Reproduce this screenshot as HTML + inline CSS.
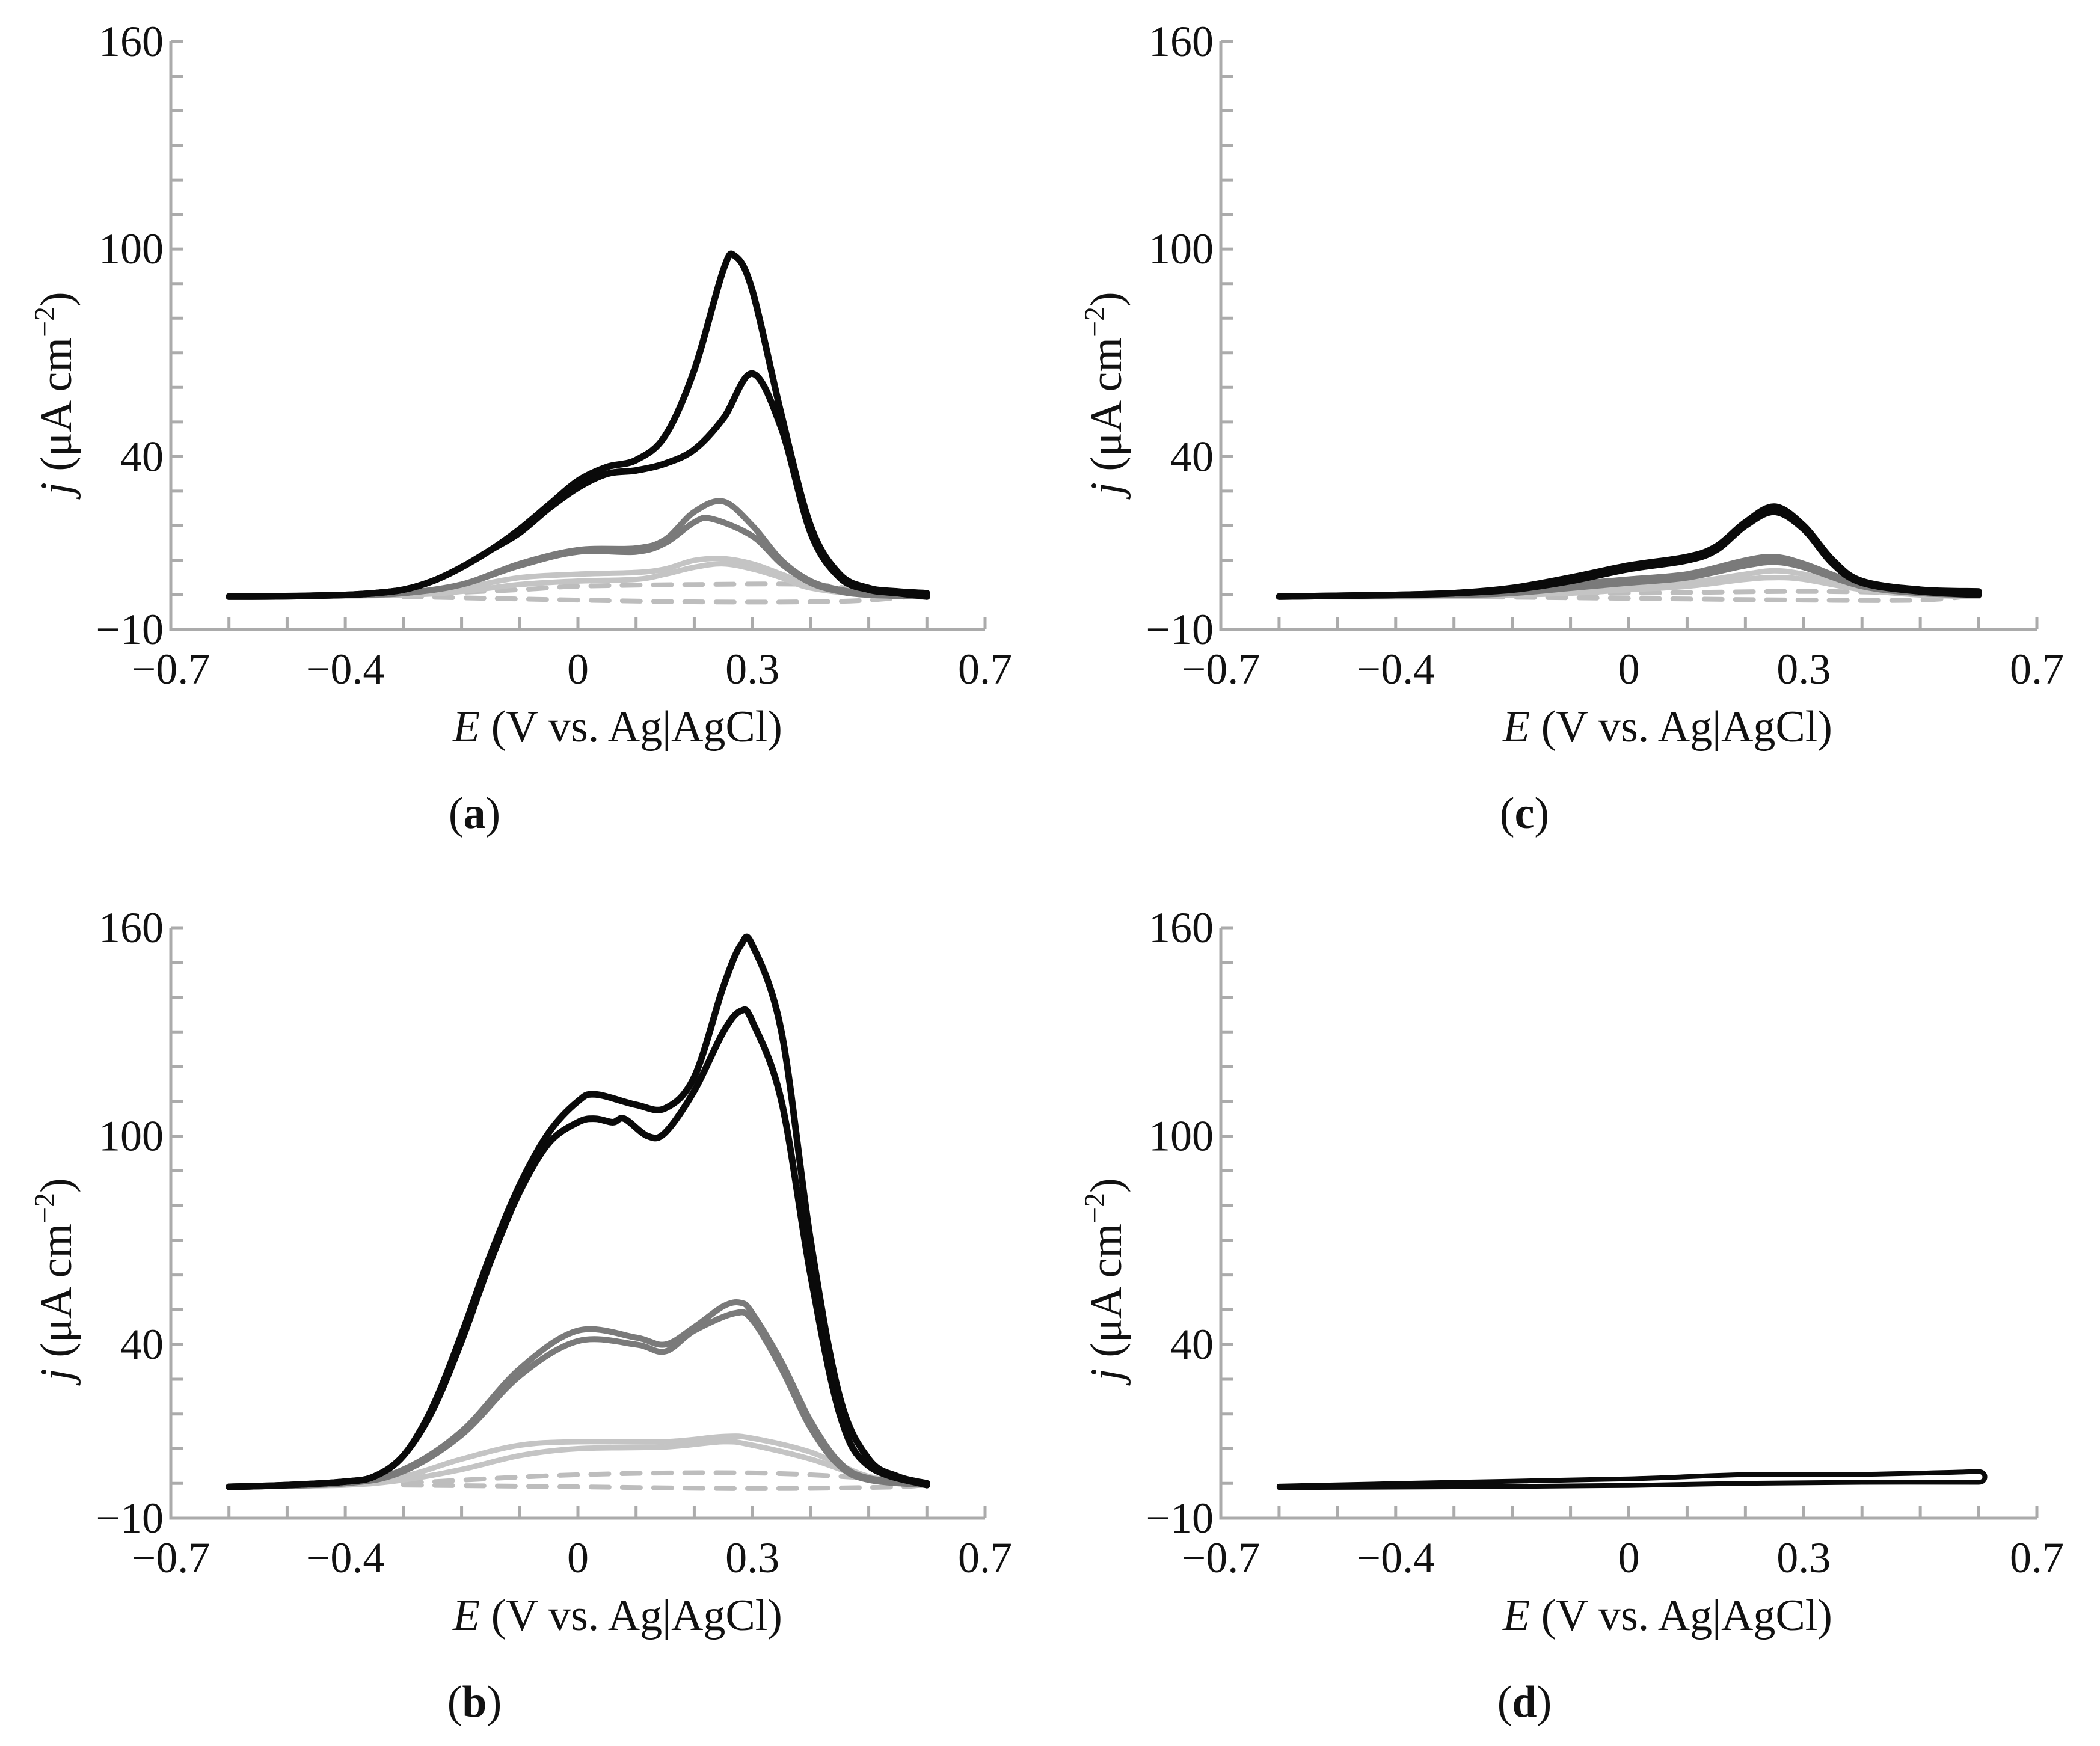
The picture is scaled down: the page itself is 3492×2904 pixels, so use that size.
<!DOCTYPE html>
<html><head><meta charset="utf-8"><style>
html,body{margin:0;padding:0;background:#fff}
svg{display:block}
text{font-family:"Liberation Serif",serif;fill:#111}
</style></head><body>
<svg id="fig" width="3492" height="2904" viewBox="0 0 3492 2904"></svg>
<script>
// ---- axis data ----
const xTickLabels=["-0.7","-0.4","0","0.3","0.7"];
const xTickValues=[-0.7,-0.4,0,0.3,0.7];
const yTickLabels=["-10","40","100","160"];
const yTickValues=[-10,40,100,160];
// ---- panel (a) ----
const aBlackUpE=[-0.6,-0.5,-0.4,-0.35,-0.3,-0.25,-0.2,-0.15,-0.1,-0.05,0,0.05,0.1,0.15,0.2,0.25,0.27,0.3,0.35,0.4,0.45,0.5,0.55,0.6];
const aBlackUpJ=[-0.5,-0.4,0,0.5,1.5,4,8,13,19,26,33,37,39,46,65,94,98,88,52,20,6,2,1,0.5];
const aBlackLoE=[-0.6,-0.5,-0.4,-0.35,-0.3,-0.25,-0.2,-0.15,-0.1,-0.05,0,0.05,0.1,0.15,0.2,0.25,0.3,0.35,0.4,0.45,0.5,0.55,0.6];
const aBlackLoJ=[-0.5,-0.4,0,0.5,1.5,4,8,13,18,25,31,35,36,38,42,51,64,48,18,5,1.5,0.5,-0.5];
const aDarkUpE=[-0.6,-0.4,-0.3,-0.2,-0.1,0,0.1,0.15,0.2,0.25,0.3,0.35,0.4,0.45,0.5,0.6];
const aDarkUpJ=[-0.5,0,0.5,3,9,13,13.5,16,24,27,20,10,4,1.5,0.5,0];
const aDarkLoE=[-0.6,-0.4,-0.3,-0.2,-0.1,0,0.1,0.15,0.2,0.23,0.3,0.35,0.4,0.45,0.5,0.6];
const aDarkLoJ=[-0.5,0,0.5,3,8.5,12.5,12.5,15,21,22,17,9,3.5,1,0,-0.5];
const aLightUpE=[-0.6,-0.3,-0.2,-0.1,0,0.1,0.15,0.2,0.25,0.3,0.35,0.4,0.5,0.6];
const aLightUpJ=[-0.5,0,2,5,6,6.5,7.5,10,10.5,9,6,3,0.5,0];
const aLightLoE=[-0.6,-0.3,-0.2,-0.1,0,0.1,0.15,0.2,0.25,0.3,0.35,0.4,0.5,0.6];
const aLightLoJ=[-0.5,0,1,3,4,4.5,6,8,9,7.5,5,2,0,-0.5];
const aDashUpE=[-0.3,-0.1,0,0.2,0.4,0.5,0.6];
const aDashUpJ=[0,1.5,2.5,3,3,1,0];
const aDashLoE=[-0.3,0,0.2,0.4,0.5,0.6];
const aDashLoJ=[-0.5,-1.5,-2,-2,-1.5,0];
// ---- panel (b) ----
const bBlackUpE=[-0.6,-0.5,-0.4,-0.35,-0.3,-0.25,-0.2,-0.15,-0.1,-0.05,0,0.03,0.1,0.15,0.2,0.25,0.28,0.3,0.35,0.4,0.45,0.5,0.55,0.6];
const bBlackUpJ=[-1,-0.5,0.5,2,8,22,43,66,86,101,110,112,109,108,117,143,155,155,130,70,25,7,2,0];
const bBlackLoE=[-0.6,-0.5,-0.4,-0.35,-0.3,-0.25,-0.2,-0.15,-0.1,-0.05,0,0.03,0.06,0.08,0.12,0.15,0.2,0.25,0.28,0.3,0.35,0.4,0.45,0.5,0.6];
const bBlackLoJ=[-1,-0.5,0.5,2,8,21,41,64,84,98,104,105,104,105,100,101,113,130,136,133,110,60,20,5,-0.5];
const bDarkUpE=[-0.6,-0.4,-0.3,-0.2,-0.1,0,0.1,0.15,0.2,0.25,0.28,0.3,0.35,0.4,0.45,0.5,0.6];
const bDarkUpJ=[-1,0,4,15,33,44,42,40,45,51,52,49,35,18,6,1.5,0];
const bDarkLoE=[-0.6,-0.4,-0.3,-0.2,-0.1,0,0.1,0.15,0.2,0.27,0.3,0.35,0.4,0.45,0.5,0.6];
const bDarkLoJ=[-1,0,3.5,14,31,41,40,38,44,49,47,33,16,5,1,-0.5];
const bLightUpE=[-0.6,-0.4,-0.3,-0.2,-0.1,0,0.15,0.25,0.3,0.4,0.5,0.6];
const bLightUpJ=[-1,0,2,7,11,12,12,13.5,13,9,2,0];
const bLightLoE=[-0.6,-0.4,-0.3,-0.2,-0.1,0,0.15,0.25,0.3,0.4,0.5,0.6];
const bLightLoJ=[-1,-0.5,1,4,8,10,10.5,12,11,7,1.5,-0.5];
const bDashUpE=[-0.3,0,0.3,0.5,0.6];
const bDashUpJ=[0,2.5,3,1.5,0];
const bDashLoE=[-0.3,0,0.3,0.55,0.6];
const bDashLoJ=[-0.5,-1,-1.5,-1,0];
// ---- panel (c) ----
const cBlackUpE=[-0.6,-0.4,-0.3,-0.2,-0.1,0,0.1,0.15,0.2,0.25,0.3,0.35,0.4,0.5,0.6];
const cBlackUpJ=[-0.5,0,0.5,2,5,8.5,11,14,21,25.5,20,10,4,1.5,1];
const cBlackLoE=[-0.6,-0.4,-0.3,-0.2,-0.1,0,0.1,0.15,0.2,0.25,0.3,0.35,0.4,0.5,0.6];
const cBlackLoJ=[-0.5,0,0.5,1.5,4,7.5,10,13,20,24,19,9,3.5,1,0];
const cDarkUpE=[-0.6,-0.3,-0.2,-0.1,0,0.1,0.2,0.25,0.3,0.4,0.5,0.6];
const cDarkUpJ=[-0.5,0,1,3,4.5,6,10,11,9,3,1,0.5];
const cDarkLoE=[-0.6,-0.3,-0.2,-0.1,0,0.1,0.2,0.25,0.3,0.4,0.5,0.6];
const cDarkLoJ=[-0.5,0,0.5,2,3.5,5,8.5,9.5,8,2.5,0.5,0];
const cLightUpE=[-0.6,-0.3,-0.1,0,0.1,0.2,0.25,0.3,0.4,0.5,0.6];
const cLightUpJ=[-0.5,0,1.5,2.5,3.5,6,7,6,2.5,0.5,0];
const cLightLoE=[-0.6,-0.3,-0.1,0,0.1,0.2,0.25,0.3,0.4,0.5,0.6];
const cLightLoJ=[-0.5,-0.5,0.5,1.5,2.5,4.5,5,4.5,1.5,0,-0.5];
const cDashUpE=[-0.3,0,0.3,0.5,0.6];
const cDashUpJ=[0,0.5,1,0.5,0];
const cDashLoE=[-0.3,0,0.3,0.5,0.6];
const cDashLoJ=[-0.5,-1,-1.5,-1.5,0];
// ---- panel (d) ----
const dBlackUpE=[-0.6,-0.3,0,0.2,0.4,0.6];
const dBlackUpJ=[-0.8,0.3,1.3,2.5,2.6,3.4];
const dBlackLoE=[-0.6,-0.3,0,0.2,0.4,0.6];
const dBlackLoJ=[-1.2,-1,-0.6,0,0.3,0.3];

const NS="http://www.w3.org/2000/svg";
const svg=document.getElementById('fig');
function mk(tag,attrs,parent){const e=document.createElementNS(NS,tag);for(const k in attrs)e.setAttribute(k,attrs[k]);(parent||svg).appendChild(e);return e;}

const panels=[
 {id:'a',x0:284,x1:1638,y0:69,y1:1047,series:[
  ['dash',aDashUpE,aDashUpJ,aDashLoE,aDashLoJ],['light',aLightUpE,aLightUpJ,aLightLoE,aLightLoJ],
  ['dark',aDarkUpE,aDarkUpJ,aDarkLoE,aDarkLoJ],['black',aBlackUpE,aBlackUpJ,aBlackLoE,aBlackLoJ]]},
 {id:'b',x0:284,x1:1638,y0:1543,y1:2525,series:[
  ['dash',bDashUpE,bDashUpJ,bDashLoE,bDashLoJ],['light',bLightUpE,bLightUpJ,bLightLoE,bLightLoJ],
  ['dark',bDarkUpE,bDarkUpJ,bDarkLoE,bDarkLoJ],['black',bBlackUpE,bBlackUpJ,bBlackLoE,bBlackLoJ]]},
 {id:'c',x0:2030,x1:3387,y0:69,y1:1047,series:[
  ['dash',cDashUpE,cDashUpJ,cDashLoE,cDashLoJ],['light',cLightUpE,cLightUpJ,cLightLoE,cLightLoJ],
  ['dark',cDarkUpE,cDarkUpJ,cDarkLoE,cDarkLoJ],['black',cBlackUpE,cBlackUpJ,cBlackLoE,cBlackLoJ]]},
 {id:'d',x0:2030,x1:3387,y0:1543,y1:2525,series:[['loop',dBlackUpE,dBlackUpJ,dBlackLoE,dBlackLoJ]]}
];
const styles={black:{c:'#0a0a0a',w:11,d:''},loop:{c:'#0a0a0a',w:8,d:''},dark:{c:'#7a7a7a',w:10,d:''},light:{c:'#c4c4c4',w:9,d:''},dash:{c:'#bdbdbd',w:8,d:'30 22'}};

function smooth(pts){
  let d='M'+pts[0][0].toFixed(1)+','+pts[0][1].toFixed(1);
  for(let i=0;i<pts.length-1;i++){
    const p0=pts[Math.max(0,i-1)],p1=pts[i],p2=pts[i+1],p3=pts[Math.min(pts.length-1,i+2)];
    const c1=[p1[0]+(p2[0]-p0[0])/6,p1[1]+(p2[1]-p0[1])/6];
    const c2=[p2[0]-(p3[0]-p1[0])/6,p2[1]-(p3[1]-p1[1])/6];
    d+='C'+c1[0].toFixed(1)+','+c1[1].toFixed(1)+' '+c2[0].toFixed(1)+','+c2[1].toFixed(1)+' '+p2[0].toFixed(1)+','+p2[1].toFixed(1);
  }
  return d;
}

panels.forEach(p=>{
  const g=mk('g',{});
  
  
  const X=e=>p.x0+(e+0.7)/1.4*(p.x1-p.x0);
  const Y=j=>p.y1-(j+10)/170*(p.y1-p.y0);
  const ax=mk('path',{d:`M${p.x0},${p.y0}V${p.y1}H${p.x1}`,fill:'none',stroke:'#ababab','stroke-width':5},g);
  
  
  for(let v=-10;v<=160;v+=10){
    const t=mk('line',{x1:p.x0,x2:p.x0+20,y1:Y(v),y2:Y(v),stroke:'#ababab','stroke-width':5},g);
    
    
  }
  for(let k=-6;k<=7;k++){
    const t=mk('line',{x1:X(k/10),x2:X(k/10),y1:p.y1,y2:p.y1-20,stroke:'#ababab','stroke-width':5},g);
    
    
  }
  yTickLabels.forEach((l,i)=>{
    const t=mk('text',{x:p.x0-12,y:Y(yTickValues[i])+24,'text-anchor':'end','font-size':72},g);
    t.textContent=l.replace('-','\u2212');
    
    
  });
  xTickLabels.forEach((l,i)=>{
    const t=mk('text',{x:X(xTickValues[i]),y:p.y1+90,'text-anchor':'middle','font-size':72},g);
    t.textContent=l.replace('-','\u2212');
    
    
  });
  const xt=mk('text',{x:p.x0+743,y:p.y1+186,'text-anchor':'middle','font-size':74},g);
  xt.innerHTML='<tspan font-style="italic">E</tspan> (V vs. Ag|AgCl)';
  
  
  const yt=mk('text',{x:0,y:0,'text-anchor':'middle','font-size':74,transform:`translate(${p.x0-166},${p.y0+585}) rotate(-90)`},g);
  yt.innerHTML='<tspan font-style="italic">j</tspan> (\u03bcA cm<tspan font-size="48" dy="-28">\u22122</tspan><tspan dy="28">)</tspan>';
  
  
  const pl=mk('text',{x:p.x0+505,y:p.y1+330,'text-anchor':'middle','font-size':74},g);
  pl.innerHTML='(<tspan font-weight="bold">'+p.id+'</tspan>)';
  
  
  p.series.forEach(s=>{
    const st=styles[s[0]];
    const up=s[1].map((e,i)=>[X(e),Y(s[2][i])]);
    const lo=s[3].map((e,i)=>[X(e),Y(s[4][i])]);
    if(s[0]==='loop'){
      const lr=lo.slice().reverse();
      const last=up[up.length-1],first=lr[0];
      const d=smooth(up)+'C'+(last[0]+14)+','+last[1]+' '+(first[0]+14)+','+first[1]+' '+first[0]+','+first[1]+smooth(lr).replace(/^M[^C]*/,'')+'Z';
      const path=mk('path',{d:d,fill:'none',stroke:st.c,'stroke-width':st.w,'stroke-linejoin':'round'},g);
      
      
      return;
    }
    [up,lo].forEach((pts,bi)=>{
      const path=mk('path',{d:smooth(pts),fill:'none',stroke:st.c,'stroke-width':st.w,'stroke-linecap':'round','stroke-linejoin':'round'},g);
      if(st.d)path.setAttribute('stroke-dasharray',st.d);
      
      
    });
  });
});
</script>
</body></html>
